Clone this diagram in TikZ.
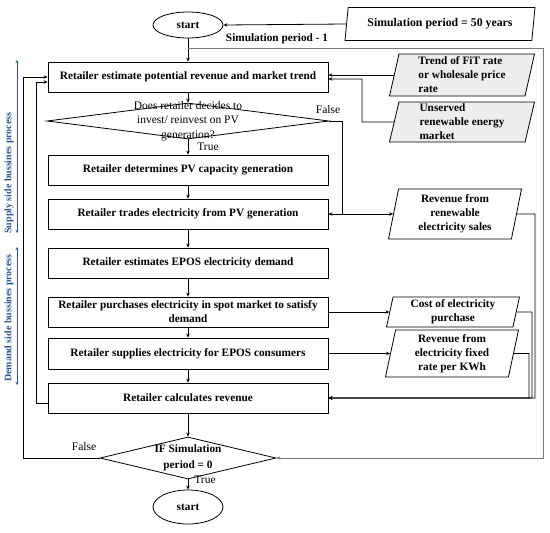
\documentclass[tikz,border=0pt]{standalone}
\usepackage{fontspec}
\setmainfont{Liberation Serif}
\usetikzlibrary{arrows.meta,shapes.geometric}

\definecolor{procblue}{RGB}{47,85,151}
\definecolor{inshade}{RGB}{238,238,238}
\definecolor{loopgray}{RGB}{120,120,120}

\begin{document}
\begin{tikzpicture}[x=1pt,y=-1pt,>={Stealth[length=4pt,width=3.5pt]},
  line width=0.8pt,
  every node/.style={font=\fontsize{11.3}{14}\selectfont\bfseries,align=center},
  plain/.style={font=\fontsize{11.5}{14.5}\selectfont},
  procbox/.style={draw,minimum width=280pt,minimum height=30pt,inner sep=1pt},
  decide/.style={draw,diamond,inner sep=0pt},
  term/.style={draw,ellipse,minimum width=70pt,inner sep=0pt},
  iobox/.style={draw,trapezium,trapezium left angle=76,trapezium right angle=104,
    trapezium stretches body,minimum width=133pt,inner sep=1pt},
  sidenote/.style={rotate=90,text=procblue,font=\fontsize{10}{12}\selectfont\bfseries}]
\useasboundingbox (0,0) rectangle (550,533);

% main column
\node[term,minimum height=26pt] (start) at (188,25) {start};
\node[procbox] (estimate) at (188,77) {Retailer estimate potential revenue and market trend};
\node[decide,minimum width=282pt,minimum height=36pt] (invest) at (188,121) {};
\node[plain] at (invest) {Does retailer decides to\\invest/ reinvest on PV\\generation?};
\node[procbox] (capacity) at (188,170) {Retailer determines PV capacity generation};
\node[procbox] (trade) at (188,214) {Retailer trades electricity from PV generation};
\node[procbox] (demand) at (188,263) {Retailer estimates EPOS electricity demand};
\node[procbox] (purchase) at (188,312) {Retailer purchases electricity in spot market to satisfy\\demand};
\node[procbox,minimum height=31pt] (supply) at (188,353.5) {Retailer supplies electricity for EPOS consumers};
\node[procbox] (revenue) at (188,398) {Retailer calculates revenue};
\node[decide,minimum width=176pt,minimum height=42pt] (period) at (188,458) {};
\node[font=\fontsize{11.3}{16}\selectfont\bfseries] at (period) {IF Simulation\\period = 0};
\node[term,minimum height=34pt] (stop) at (188,507) {start};

% inputs and outputs
\node[iobox,minimum height=33pt,minimum width=190pt,font=\fontsize{11.8}{14}\selectfont\bfseries] (years) at (440,24) {Simulation period = 50 years};
\node[iobox,fill=inshade,minimum height=42pt,minimum width=145pt,align=left] (fit) at (462,75) {Trend of FiT rate\\or wholesale price\\rate};
\node[iobox,fill=inshade,minimum height=40pt,minimum width=145pt,align=left] (unserved) at (462,122) {Unserved\\renewable energy\\market};
\node[iobox,minimum height=50pt] (salesrev) at (455,214) {Revenue from\\renewable\\electricity sales};
\node[iobox,minimum height=30pt] (cost) at (453,312) {Cost of electricity\\purchase};
\node[iobox,minimum height=47pt] (fixedrev) at (452,353.5) {Revenue from\\electricity fixed\\rate per KWh};

% labels
\node (periodlbl) at (277,39) {Simulation period - 1};
\node[plain] (false1) at (328,110) {False};
\node[plain] (true1) at (208,147) {True};
\node[plain] (false2) at (84,447) {False};
\node[plain] (true2) at (205,480) {True};

% process sides
\coordinate (sup1) at (17,60);
\coordinate (sup2) at (17,233);
\coordinate (dem1) at (17,247);
\coordinate (dem2) at (17,385);
\draw[{Stealth[length=3pt,width=3pt]}-{Stealth[length=3pt,width=3pt]},procblue,line width=0.6pt] (sup1) -- (sup2);
\draw[{Stealth[length=3pt,width=3pt]}-{Stealth[length=3pt,width=3pt]},procblue,line width=0.6pt] (dem1) -- (dem2);
\node[sidenote] (suplbl) at (9,173) {Supply side bussines process};
\node[sidenote] (demlbl) at (9,318) {Demand side bussines process};

% flow
\coordinate (split) at (188,48);
\draw[->] (years.west) -- (start.east);
\draw[->] (start) -- (estimate);
\draw[->] (estimate) -- (invest);
\draw[->] (invest) -- (capacity);
\draw[->] (capacity) -- (trade);
\draw[->] (trade) -- (demand);
\draw[->] (demand) -- (purchase);
\draw[->] (purchase) -- (supply);
\draw[->] (supply) -- (revenue);
\draw[->] (revenue) -- (period);
\draw[->] (period) -- (stop);
\draw[->] (invest.east) -- (342,121) |- (trade.east);
\draw[->] (fit.west) -- (fit.west -| estimate.east);
\draw[->] (unserved.west) -- (362,122) |- ([yshift=-2pt]estimate.east);
\draw[->] (trade.east) -- (trade.east -| salesrev.west);
\draw[->] (purchase.east) -- (purchase.east -| cost.west);
\draw[->] (supply.east) -- (supply.east -| fixedrev.west);
\draw[->] (salesrev.east) -- (535,214) |- (revenue.east);
\draw[->] (cost.east) -- (532,312) |- (revenue.east);
\draw[->] (fixedrev.east) -- (529,353.5) |- (revenue.east);
\draw[->,loopgray] (split) -- (543,48) |- (period.east);
\draw[->] (period.west) -- (23,458) |- (estimate.west);
\draw[->] ([yshift=-5pt]revenue.west) -- (36,403) |- ([yshift=-5pt]estimate.west);
\end{tikzpicture}
\end{document}
